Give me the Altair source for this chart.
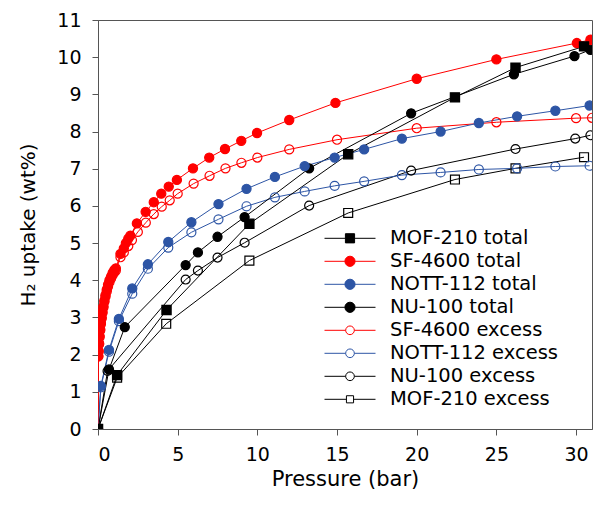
import altair as alt
import pandas as pd

# ---------------- data ----------------
series_order = [
    "MOF-210 total", "SF-4600 total", "NOTT-112 total", "NU-100 total",
    "SF-4600 excess", "NOTT-112 excess", "NU-100 excess", "MOF-210 excess",
]

mof_total_x = [0, 1.2, 4.3, 9.5, 15.7, 22.4, 26.2, 30.5]
mof_total_y = [0, 1.45, 3.2, 5.52, 7.39, 8.92, 9.72, 10.29]

sf_total_x = [0, 0.02, 0.04, 0.07, 0.1, 0.14, 0.18, 0.23, 0.28, 0.34, 0.4, 0.47, 0.55,
              0.63, 0.72, 0.82, 0.92, 1.02, 1.12, 1.41, 1.62, 1.75, 1.9, 2.03, 2.44,
              2.99, 3.5, 3.97, 4.44, 4.95, 5.96, 6.98, 7.97, 8.99, 9.98, 12.0, 14.9,
              20.0, 25.0, 30.05, 30.9]
sf_total_y = [0, 1.96, 2.1, 2.3, 2.5, 2.68, 2.85, 3.0, 3.15, 3.3, 3.45, 3.6, 3.75,
              3.88, 4.0, 4.1, 4.2, 4.27, 4.32, 4.71, 4.86, 5.0, 5.12, 5.2, 5.53,
              5.84, 6.1, 6.33, 6.52, 6.7, 7.01, 7.3, 7.53, 7.75, 7.96, 8.31, 8.77,
              9.42, 9.94, 10.38, 10.47]

nott_total_x = [0, 0.18, 0.69, 1.31, 2.15, 3.13, 4.41, 5.86, 7.56, 9.32, 11.1, 12.97,
                14.85, 16.7, 19.07, 21.5, 23.9, 26.3, 28.7, 30.85]
nott_total_y = [0, 1.16, 2.13, 2.96, 3.78, 4.43, 5.03, 5.56, 6.05, 6.46, 6.78, 7.07,
                7.3, 7.52, 7.81, 8.0, 8.23, 8.41, 8.56, 8.7]

nu_total_x = [0, 0.69, 1.68, 5.5, 6.27, 7.5, 9.2, 13.25, 19.65, 26.1, 29.9, 30.9]
nu_total_y = [0, 1.6, 2.74, 4.41, 4.75, 5.17, 5.7, 7.01, 8.49, 9.54, 10.03, 10.2]

sf_excess_x = [0, 0.02, 0.04, 0.07, 0.1, 0.14, 0.18, 0.23, 0.28, 0.34, 0.4, 0.47, 0.55,
               0.63, 0.72, 0.82, 0.92, 1.02, 1.12, 1.41, 1.62, 1.9, 2.13, 2.5, 3.0,
               3.5, 4.0, 4.5, 5.0, 6.0, 7.0, 8.0, 9.0, 10.0, 12.0, 15.0, 20.0, 25.0,
               30.0, 31.0]
sf_excess_y = [0, 1.95, 2.08, 2.28, 2.47, 2.65, 2.82, 2.97, 3.12, 3.27, 3.42, 3.56, 3.7,
               3.83, 3.95, 4.05, 4.14, 4.21, 4.26, 4.62, 4.75, 4.92, 5.08, 5.3, 5.55,
               5.78, 5.98, 6.15, 6.33, 6.6, 6.81, 7.01, 7.16, 7.3, 7.52, 7.78, 8.09,
               8.25, 8.36, 8.37]

nott_excess_x = nott_total_x
nott_excess_y = [0, 1.12, 2.08, 2.9, 3.64, 4.31, 4.88, 5.29, 5.64, 5.99, 6.23, 6.39,
                 6.54, 6.66, 6.83, 6.9, 6.98, 7.01, 7.06, 7.08]

nu_excess_x = [0, 0.6, 5.5, 6.27, 7.5, 9.2, 13.25, 19.65, 26.2, 29.95, 30.9]
nu_excess_y = [0, 1.56, 4.02, 4.26, 4.61, 5.01, 6.01, 6.95, 7.53, 7.81, 7.9]

mof_excess_x = [0, 1.2, 4.28, 9.5, 15.7, 22.4, 26.2, 30.5]
mof_excess_y = [0, 1.38, 2.83, 4.53, 5.81, 6.71, 7.01, 7.31]

x_ticks = [0, 5, 10, 15, 20, 25, 30]
y_ticks = list(range(0, 12))

# ---------------- styles ----------------
RED, BLUE, BLACK = "#ff0000", "#2d55a5", "#000000"
stroke_colors = [BLACK, RED, BLUE, BLACK, RED, BLUE, BLACK, BLACK]
fill_colors = [BLACK, RED, BLUE, BLACK, "transparent", "transparent", "transparent", "transparent"]
point_shapes = ["square", "circle", "circle", "circle", "circle", "circle", "circle", "square"]
point_sizes = [85, 80, 80, 80, 75, 75, 75, 45]


def leg_circle(r):
    return f"M-1,0H{-r}M{r},0H1M{-r},0A{r},{r},0,1,1,{r},0A{r},{r},0,1,1,{-r},0Z"


def leg_square(h):
    return f"M-1,0H{-h}M{h},0H1M{-h},{-h}H{h}V{h}H{-h}Z"


legend_shapes = [leg_square(0.18), leg_circle(0.2), leg_circle(0.2), leg_circle(0.2),
                 leg_circle(0.17), leg_circle(0.17), leg_circle(0.17), leg_square(0.14)]

# ---------------- table ----------------
xs = [mof_total_x, sf_total_x, nott_total_x, nu_total_x,
      sf_excess_x, nott_excess_x, nu_excess_x, mof_excess_x]
ys = [mof_total_y, sf_total_y, nott_total_y, nu_total_y,
      sf_excess_y, nott_excess_y, nu_excess_y, mof_excess_y]
rows = []
for k in reversed(range(len(series_order))):
    for xv, yv in zip(xs[k], ys[k]):
        rows.append({"series": series_order[k], "p": xv, "u": yv, "k": k})
df = pd.DataFrame(rows)

FONT = "DejaVu Sans"
x_enc = alt.X("p:Q", scale=alt.Scale(domain=[0, 31], nice=False, zero=False),
              axis=alt.Axis(title="Pressure (bar)", values=x_ticks, grid=False,
                            tickSize=6, labelPadding=10, titlePadding=4, titleFontSize=21))
y_enc = alt.Y("u:Q", scale=alt.Scale(domain=[0, 11], nice=False),
              axis=alt.Axis(title="H₂ uptake  (wt%)", values=y_ticks, grid=False,
                            tickSize=6, labelPadding=11, titlePadding=18, titleFontSize=20))

dom = series_order
base = alt.Chart(df)

lines = base.mark_line(strokeWidth=1, clip=True).encode(
    x=x_enc, y=y_enc,
    detail="series:N",
    stroke=alt.Stroke("series:N", scale=alt.Scale(domain=dom, range=stroke_colors), legend=None),
)

points = base.mark_point(filled=False, opacity=1, strokeWidth=1.2, clip=True).encode(
    x=x_enc, y=y_enc,
    stroke=alt.Stroke("series:N", scale=alt.Scale(domain=dom, range=stroke_colors), legend=None),
    fill=alt.Fill("series:N", scale=alt.Scale(domain=dom, range=fill_colors), legend=None),
    shape=alt.Shape("series:N", scale=alt.Scale(domain=dom, range=point_shapes), legend=None),
    size=alt.Size("series:N", scale=alt.Scale(domain=dom, range=point_sizes), legend=None),
    order=alt.Order("k:Q", sort="descending"),
)

leg = alt.Legend(title=None, orient="none", legendX=226, legendY=207,
                 symbolSize=2601, symbolStrokeWidth=1, clipHeight=22.6, rowPadding=0,
                 labelFont=FONT, labelFontSize=19.5, labelColor="#000", labelLimit=400,
                 labelOffset=14, padding=0)

legend_layer = base.transform_filter("false").mark_point(filled=False, opacity=1).encode(
    x=x_enc, y=y_enc,
    stroke=alt.Stroke("series:N", scale=alt.Scale(domain=dom, range=stroke_colors), legend=leg),
    fill=alt.Fill("series:N", scale=alt.Scale(domain=dom, range=fill_colors), legend=leg),
    shape=alt.Shape("series:N", scale=alt.Scale(domain=dom, range=legend_shapes), legend=leg),
)

chart = alt.layer(lines, points, legend_layer).resolve_scale(
    stroke="independent", fill="independent", shape="independent", size="independent"
).properties(
    width=494, height=409,
    autosize=alt.AutoSizeParams(type="none"),
    padding={"left": 90, "top": 12, "right": 4, "bottom": 63},
).configure_view(
    stroke="#555", strokeWidth=1
).configure_axis(
    labelFont=FONT, labelFontSize=19, labelColor="#000",
    titleFont=FONT, titleFontWeight="normal", titleColor="#000",
    domainColor="#555", tickColor="#555", domainWidth=1, tickWidth=1,
)

chart.save("out.html", embed_options={"renderer": "svg", "actions": False})
